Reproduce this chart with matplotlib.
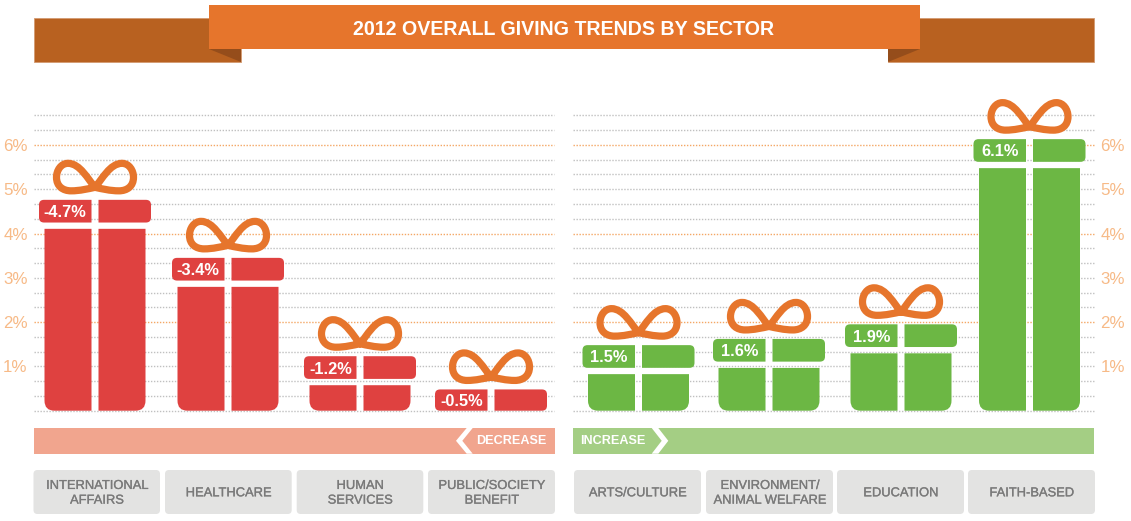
import matplotlib
matplotlib.use('Agg')
import matplotlib.pyplot as plt
import matplotlib.patheffects as pe
from matplotlib.patches import PathPatch, Polygon, Rectangle, FancyBboxPatch
from matplotlib.path import Path

plt.rcParams['font.family'] = ['Liberation Sans', 'DejaVu Sans']

W, H = 1131, 521
title = '2012 OVERALL GIVING TRENDS BY SECTOR'

# sector data
decrease_labels = ['INTERNATIONAL\nAFFAIRS', 'HEALTHCARE', 'HUMAN\nSERVICES', 'PUBLIC/SOCIETY\nBENEFIT']
decrease_text = ['-4.7%', '-3.4%', '-1.2%', '-0.5%']
decrease_heights = [4.76, 3.45, 1.23, 0.48]
increase_labels = ['ARTS/CULTURE', 'ENVIRONMENT/\nANIMAL WELFARE', 'EDUCATION', 'FAITH-BASED']
increase_text = ['1.5%', '1.6%', '1.9%', '6.1%']
increase_heights = [1.48, 1.62, 1.95, 6.13]
tick_values = [1, 2, 3, 4, 5, 6]
tick_labels = ['1%', '2%', '3%', '4%', '5%', '6%']

RED = '#DF4140'
GREEN = '#6CB744'
ORANGE = '#E6752C'
PX = 1 / 44.3  # one pixel in percent units
BASE_Y = 410.7


def box(ax, x0, x1, y0, y1, color, bottom_left=0, bottom_right=0, top_left=0, top_right=0):
    # x in px, y in percent, each corner has its own radius in px
    verts = [(x0 + bottom_left, y0)]
    codes = [Path.MOVETO]
    verts.append((x1 - bottom_right, y0))
    codes.append(Path.LINETO)
    if bottom_right:
        verts += [(x1, y0), (x1, y0 + bottom_right * PX)]
        codes += [Path.CURVE3, Path.CURVE3]
    verts.append((x1, y1 - top_right * PX))
    codes.append(Path.LINETO)
    if top_right:
        verts += [(x1, y1), (x1 - top_right, y1)]
        codes += [Path.CURVE3, Path.CURVE3]
    verts.append((x0 + top_left, y1))
    codes.append(Path.LINETO)
    if top_left:
        verts += [(x0, y1), (x0, y1 - top_left * PX)]
        codes += [Path.CURVE3, Path.CURVE3]
    verts.append((x0, y0 + bottom_left * PX))
    codes.append(Path.LINETO)
    if bottom_left:
        verts += [(x0, y0), (x0 + bottom_left, y0)]
        codes += [Path.CURVE3, Path.CURVE3]
    ax.add_patch(PathPatch(Path(verts, codes), fc=color, ec='none', zorder=3, clip_on=False))


def bow(ax, cx, y):
    # figure-eight ribbon, offsets in px from the centre bottom
    half = [(0, 4), (-7, 12), (-15, 28), (-27, 28), (-34, 28), (-38.5, 21), (-38.5, 14),
            (-38.5, 5), (-32, 0.5), (-24, 0.5), (-15, 0.5), (-7, 2.5), (0, 4)]
    other = [(-a, b) for a, b in half[::-1]][1:]
    pts = half + other
    verts = [(cx + a, y + b * PX) for a, b in pts]
    codes = [Path.MOVETO] + [Path.CURVE4] * (len(pts) - 1)
    ax.add_patch(PathPatch(Path(verts, codes), fc='none', ec=ORANGE, lw=5.2,
                           zorder=4, clip_on=False, capstyle='round', joinstyle='round'))


def gift(ax, cx, height, text, color):
    gap = 3.5
    lid_w = 52.5
    body_w = 47
    lid_bottom = max(height - 22.7 * PX, 0)
    box(ax, cx - gap - lid_w, cx - gap, lid_bottom, height, color, bottom_left=5, top_left=5)
    box(ax, cx + gap, cx + gap + lid_w, lid_bottom, height, color, bottom_right=5, top_right=5)
    body_top = height - 29 * PX
    if body_top > 0:
        box(ax, cx - gap - body_w, cx - gap, 0, body_top, color, bottom_left=10)
        box(ax, cx + gap, cx + gap + body_w, 0, body_top, color, bottom_right=10)
    bow(ax, cx, height + 8.5 * PX)
    ax.text(cx - gap - lid_w / 2, (lid_bottom + height) / 2, text, color='white', fontsize=11.8,
            fontweight='bold', ha='center', va='center_baseline', zorder=5)


def panel(x0, x1, centers, heights, texts, color, side):
    top = BASE_Y - 115
    ax = fig.add_axes([x0 / W, (H - BASE_Y) / H, (x1 - x0) / W, top / H])
    ax.set_xlim(x0, x1)
    ax.set_ylim(0, top * PX)
    for i in range(21):
        level = i / 3
        even = i % 6 == 0 and i > 0
        ax.hlines(level, x0, x1, color='#F4A765' if even else '#C0C0C0', lw=1.0,
                  linestyle=(0, (1, 1.15)), zorder=1, clip_on=False)
    ax.set_yticks(tick_values)
    ax.set_yticklabels(tick_labels, color='#F7BA87', fontsize=12.2)
    ax.set_xticks([])
    ax.tick_params(axis='y', length=0, pad=4.5, left=False, right=False,
                   labelleft=side == 'left', labelright=side == 'right')
    for s in ax.spines.values():
        s.set_visible(False)
    ax.patch.set_alpha(0)
    for cx, h, t in zip(centers, heights, texts):
        gift(ax, cx, h, t, color)
    return ax


fig = plt.figure(figsize=(W / 100, H / 100), dpi=100)

# pixel overlay for ribbon, strips and label boxes
bg = fig.add_axes([0, 0, 1, 1])
bg.set_xlim(0, W)
bg.set_ylim(H, 0)
bg.axis('off')

bg.add_patch(Rectangle((33.5, 18.3), 207.5, 44, fc='#B86120', ec='#D39A70', lw=0.6))
bg.add_patch(Rectangle((888, 18.3), 205.7, 44, fc='#B86120', ec='#D39A70', lw=0.6))
bg.add_patch(Polygon([(209, 49.3), (241, 49.3), (241, 62.3)], fc='#954D1B', ec='none'))
bg.add_patch(Polygon([(920, 49.3), (888, 49.3), (888, 62.3)], fc='#954D1B', ec='none'))
bg.add_patch(Rectangle((209, 5.3), 711, 44, fc=ORANGE, ec='none', zorder=3))
bg.text(564, 29.3, title, color='white', fontsize=14.1, fontweight='bold',
        ha='center', va='center', zorder=4)

bg.add_patch(Rectangle((34, 428), 521, 25.7, fc='#F1A58E', ec='none'))
bg.add_patch(Rectangle((573, 428), 521, 25.7, fc='#A4CE84', ec='none'))
bg.add_patch(Polygon([(456, 440.8), (466.7, 428), (472.7, 428), (462.3, 440.8), (472.7, 453.7), (466.7, 453.7)],
                     fc='white', ec='none'))
bg.add_patch(Polygon([(668.3, 440.8), (658.3, 428), (651.7, 428), (661.7, 440.8), (651.7, 453.7), (658.3, 453.7)],
                     fc='white', ec='none'))
bg.text(546.5, 441.3, 'DECREASE', color='white', fontsize=9.1, fontweight='bold', ha='right', va='center')
bg.text(580.5, 441.3, 'INCREASE', color='white', fontsize=9.1, fontweight='bold', ha='left', va='center')

box_lefts = [33.5, 165, 296.7, 428, 574, 706, 837, 968]
box_rights = [160, 291.7, 423.3, 555, 701, 833, 964, 1095]
for x0, x1, lab in zip(box_lefts, box_rights, decrease_labels + increase_labels):
    bg.add_patch(FancyBboxPatch((x0 + 4, 474), x1 - x0 - 8, 36, boxstyle='round,pad=4,rounding_size=4',
                                fc='#E3E3E2', ec='none'))
    bg.text((x0 + x1) / 2, 493.3, lab, color='#7A7A7A', fontsize=9.3, ha='center', va='center',
            linespacing=1.3, path_effects=[pe.withStroke(linewidth=0.2, foreground='#7A7A7A')])

panel(34, 554, [95, 228, 360, 491], decrease_heights, decrease_text, RED, 'left')
panel(573, 1094, [638.5, 769, 901, 1029.5], increase_heights, increase_text, GREEN, 'right')

fig.savefig('out.png', dpi=100)
